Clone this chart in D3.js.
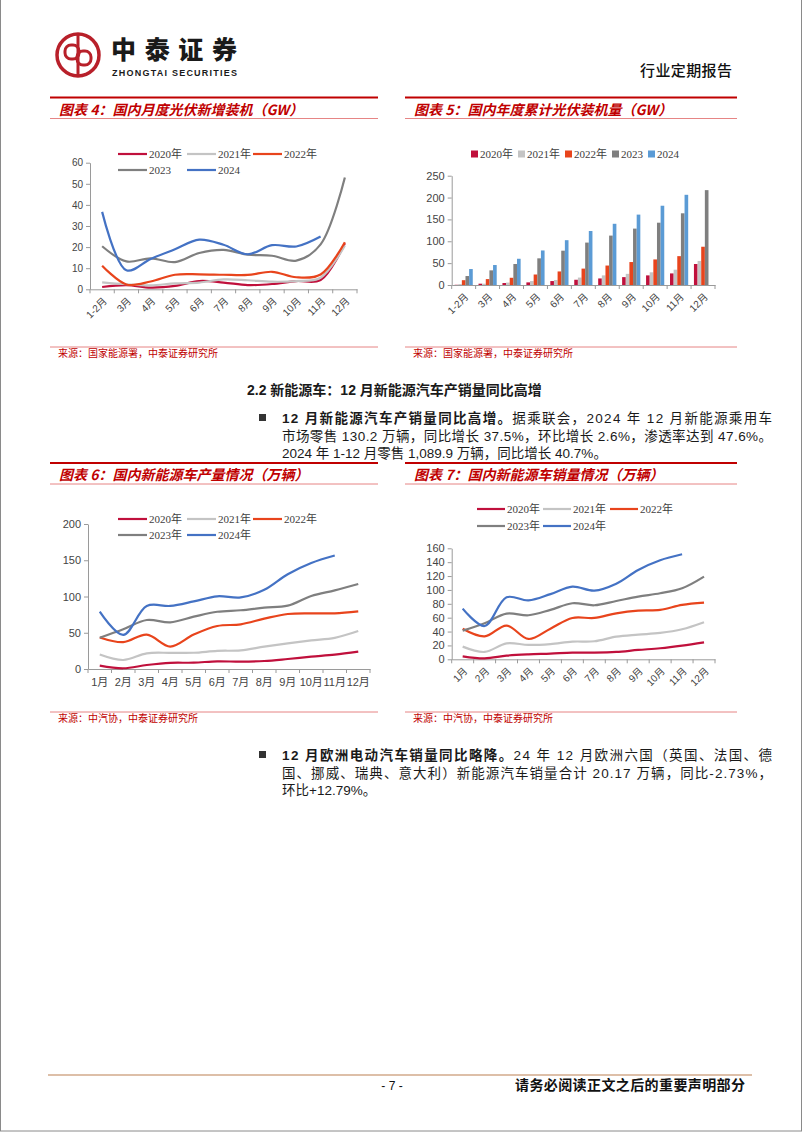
<!DOCTYPE html>
<html><head><meta charset="utf-8">
<script src="https://cdn.jsdelivr.net/npm/d3@7"></script>
<style>body{margin:0;background:#fff}svg{display:block}</style>
</head><body>
<svg id="page" width="802" height="1133"></svg>
<script>
// ---------------- DATA ----------------
const pvMonths = ["1-2月","3月","4月","5月","6月","7月","8月","9月","10月","11月","12月"];
const pvSeriesNames = ["2020年","2021年","2022年","2023","2024"];
const pvMonthly2020 = [1.1,2.0,0.8,1.6,3.9,3.2,2.0,2.5,3.9,4.4,21.8];
const pvMonthly2021 = [3.3,2.4,1.9,2.8,3.2,4.7,4.3,3.6,3.9,5.5,20.8];
const pvMonthly2022 = [11.2,2.3,3.7,6.9,7.1,6.9,6.8,8.3,5.7,7.0,22.3];
const pvMonthly2023 = [20.4,13.2,14.7,12.9,17.2,18.7,16.4,15.9,13.6,21.3,53.0];
const pvMonthly2024 = [36.7,9.0,14.4,19.0,23.5,21.1,16.6,20.9,20.3,25.0,null];

const pvCum2020 = [0.5,3.0,4.5,6.0,9.0,12.0,15.0,18.0,22.0,26.5,48.0];
const pvCum2021 = [2.0,3.0,5.5,9.0,11.5,17.0,22.0,25.5,29.0,35.0,55.0];
const pvCum2022 = [11.0,13.5,16.5,24.0,31.0,37.5,44.5,52.5,58.5,66.0,87.5];
const pvCum2023 = [20.5,33.5,48.0,61.0,78.5,97.0,113.0,129.0,142.5,164.0,217.0];
const pvCum2024 = [36.5,45.7,60.0,79.0,102.5,123.5,140.0,161.0,181.3,206.3,null];

const nevMonths = ["1月","2月","3月","4月","5月","6月","7月","8月","9月","10月","11月","12月"];
const nevSeriesNames = ["2020年","2021年","2022年","2023年","2024年"];
const prod2020 = [4.6,1.0,5.5,8.5,8.7,10.6,10.1,11.0,13.8,17.0,19.8,23.9];
const prod2021 = [20.0,12.4,21.6,22.3,22.4,25.0,25.7,30.8,35.4,39.5,43.0,52.4];
const prod2022 = [43.5,37.0,47.5,31.0,47.5,59.3,61.6,69.4,75.9,76.8,76.8,79.5];
const prod2023 = [43.0,54.7,67.6,64.4,72.2,79.0,81.0,84.6,87.4,100.7,108.5,117.2];
const prod2024 = [79.0,47.0,87.0,87.0,93.2,100.3,98.7,109.3,130.8,146.3,156.6,null];

const sales2020 = [4.3,1.4,5.3,7.2,8.2,9.6,9.6,10.6,13.5,15.9,19.7,24.5];
const sales2021 = [18.3,10.6,23.0,20.7,22.0,25.5,26.0,32.7,35.6,38.0,43.3,53.4];
const sales2022 = [44.0,33.0,48.6,29.3,44.2,59.6,59.6,66.3,70.2,71.2,78.4,81.7];
const sales2023 = [41.3,52.0,65.9,63.5,71.2,80.8,77.9,84.0,90.4,95.2,102.4,119.2];
const sales2024 = [73.0,48.0,89.4,85.0,94.0,104.8,99.0,109.0,128.8,142.8,151.4,null];

const pvTicks = [0,10,20,30,40,50,60];
const pvCumTicks = [0,50,100,150,200,250];
const prodTicks = [0,50,100,150,200];
const salesTicks = [0,20,40,60,80,100,120,140,160];

// ---------------- STYLE ----------------
const lineColors = ["#C0103C","#C4C4C4","#E8441C","#7F7F7F","#4472C4"];
const barColors  = ["#C0103C","#C4C4C4","#E8441C","#7F7F7F","#5B9BD5"];
const SANS = "'Liberation Sans','Noto Sans CJK SC',sans-serif";
const SERIF = "'Liberation Serif','Noto Sans CJK SC',serif";
const CJK = "'Noto Sans CJK SC','Liberation Sans',sans-serif";

const svg = d3.select("#page");

// page border
svg.append("rect").attr("x",0.5).attr("y",-2).attr("width",801).attr("height",1133)
  .attr("fill","none").attr("stroke","#8a8a8a").attr("stroke-width",1);

// ---------------- HEADER ----------------
const logo = svg.append("g").attr("fill","none").attr("stroke","#B8202A");
logo.append("circle").attr("cx",78).attr("cy",55).attr("r",21).attr("stroke-width",3.5);
logo.append("line").attr("x1",78).attr("x2",78).attr("y1",34).attr("y2",76).attr("stroke-width",3);
logo.append("rect").attr("x",65).attr("y",45).attr("width",14).attr("height",14).attr("rx",6).attr("stroke-width",3);
logo.append("rect").attr("x",77).attr("y",51).attr("width",14).attr("height",14).attr("rx",6).attr("stroke-width",3);
svg.append("text").attr("x",111).attr("y",59).attr("font-family",CJK).attr("font-weight",900)
  .attr("font-size",25).attr("fill","#1a1a1a").attr("textLength",126).text("中泰证券");
svg.append("text").attr("x",112).attr("y",76).attr("font-family","'Liberation Sans Narrow','Liberation Sans',sans-serif")
  .attr("font-weight",700).attr("font-size",9).attr("fill","#1a1a1a").attr("textLength",125).text("ZHONGTAI SECURITIES");
svg.append("text").attr("x",640).attr("y",76).attr("font-family",CJK).attr("font-weight",500)
  .attr("font-size",15).attr("fill","#111").attr("textLength",92).text("行业定期报告");

// ---------------- HELPERS ----------------
function titleBlock(x0,x1,yTop,title,ySrc,src){
  svg.append("line").attr("x1",x0).attr("x2",x1).attr("y1",yTop).attr("y2",yTop).attr("stroke","#C00000").attr("stroke-width",2.2);
  svg.append("text").attr("x",x0+9).attr("y",yTop+17).attr("font-family",CJK).attr("font-weight",700)
    .attr("font-style","italic").attr("font-size",14).attr("fill","#C00000").text(title);
  svg.append("line").attr("x1",x0).attr("x2",x1).attr("y1",yTop+21).attr("y2",yTop+21).attr("stroke","#E06666").attr("stroke-width",0.8);
  svg.append("line").attr("x1",x0).attr("x2",x1).attr("y1",ySrc).attr("y2",ySrc).attr("stroke","#E06666").attr("stroke-width",0.8);
  svg.append("text").attr("x",x0+8).attr("y",ySrc+10).attr("font-family",CJK)
    .attr("font-size",10).attr("fill","#C00000").text(src);
}

function axes(g,o,x,y){
  const ya = g.append("g").attr("transform",`translate(${o.left},0)`)
    .call(d3.axisLeft(y).tickValues(o.ticks).tickSize(4).tickSizeOuter(0).tickPadding(3));
  ya.selectAll("path,line").attr("stroke","#9a9a9a");
  ya.selectAll("text").attr("font-family",SANS).attr("font-size",o.yFont).attr("fill","#444");
  const xa = g.append("g").attr("transform",`translate(0,${o.bottom})`)
    .call(d3.axisBottom(x).tickSize(0).tickSizeOuter(0));
  xa.select("path").attr("stroke","#9a9a9a");
  const bounds = o.cats.map(c=>x(c)).concat([x.range()[1]]);
  xa.selectAll(".bt").data(bounds).join("line").attr("class","bt")
    .attr("x1",d=>d).attr("x2",d=>d).attr("y1",0).attr("y2",4).attr("stroke","#9a9a9a");
  const t = xa.selectAll(".tick text").attr("font-family",SANS).attr("font-size",o.xFont).attr("fill","#444");
  if(o.rotate){
    t.attr("x",0).attr("y",0).attr("dy","0.35em").attr("text-anchor","end")
     .attr("transform","translate(3,10) rotate(-45)");
  } else {
    t.attr("y",9);
  }
}

function legendLines(o, names, colors){
  const g = svg.append("g");
  names.forEach((n,i)=>{
    const p = o.legendPos[i];
    g.append("line").attr("x1",p[0]).attr("x2",p[0]+o.legendLen).attr("y1",p[1]).attr("y2",p[1])
      .attr("stroke",colors[i]).attr("stroke-width",2.2);
    g.append("text").attr("x",p[0]+o.legendLen+2).attr("y",p[1]).attr("dy","0.35em")
      .attr("font-family",SERIF).attr("font-size",11).attr("fill","#404040").text(n);
  });
}

function lineChart(o){
  const g = svg.append("g");
  const x = d3.scaleBand().domain(o.cats).range([o.left,o.right]);
  const y = d3.scaleLinear().domain([0,o.max]).range([o.bottom,o.top]);
  axes(g,o,x,y);
  const line = d3.line().defined(d=>d!=null)
    .x((d,i)=>x(o.cats[i])+x.bandwidth()/2).y(d=>y(d))
    .curve(d3.curveCatmullRom.alpha(0.5));
  g.selectAll(".series").data(o.series).join("path").attr("class","series")
    .attr("d",d=>line(d)).attr("fill","none")
    .attr("stroke",(d,i)=>lineColors[i]).attr("stroke-width",2.2).attr("stroke-linejoin","round");
  legendLines(o,o.names,lineColors);
}

function barChart(o){
  const g = svg.append("g");
  const x = d3.scaleBand().domain(o.cats).range([o.left,o.right]);
  const y = d3.scaleLinear().domain([0,o.max]).range([o.bottom,o.top]);
  const bw = x.bandwidth();
  const xs = d3.scaleBand().domain(d3.range(o.series.length)).range([bw*0.12,bw*0.88]);
  o.series.forEach((s,si)=>{
    g.selectAll(".b"+si).data(s.map((v,i)=>({v,c:o.cats[i]})).filter(d=>d.v!=null)).join("rect")
      .attr("x",d=>x(d.c)+xs(si)).attr("width",xs.bandwidth())
      .attr("y",d=>y(d.v)).attr("height",d=>y(0)-y(d.v)).attr("fill",barColors[si]);
  });
  axes(g,o,x,y);
  const lg = svg.append("g");
  o.names.forEach((n,i)=>{
    const p = o.legendPos[i];
    lg.append("rect").attr("x",p[0]).attr("y",p[1]-3.5).attr("width",7).attr("height",7).attr("fill",barColors[i]);
    lg.append("text").attr("x",p[0]+9).attr("y",p[1]).attr("dy","0.35em")
      .attr("font-family",SERIF).attr("font-size",11).attr("fill","#404040").text(n);
  });
}

// ---------------- CHARTS ----------------
titleBlock(50,378,97.5,"图表 4：国内月度光伏新增装机（GW）",347,"来源：国家能源署，中泰证券研究所");
titleBlock(405,737,97.5,"图表 5：国内年度累计光伏装机量（GW）",347,"来源：国家能源署，中泰证券研究所");
titleBlock(50,378,463,"图表 6：国内新能源车产量情况（万辆）",712,"来源：中汽协，中泰证券研究所");
titleBlock(405,737,463,"图表 7：国内新能源车销量情况（万辆）",712,"来源：中汽协，中泰证券研究所");

lineChart({cats:pvMonths, left:90, right:357, top:162.7, bottom:289.3, max:60, ticks:pvTicks,
  yFont:10, xFont:10, rotate:true,
  series:[pvMonthly2020,pvMonthly2021,pvMonthly2022,pvMonthly2023,pvMonthly2024],
  names:pvSeriesNames, legendLen:29,
  legendPos:[[118,154],[187,154],[253,154],[118,170],[187,170]]});

barChart({cats:pvMonths, left:451.7, right:715, top:175.7, bottom:285, max:250, ticks:pvCumTicks,
  yFont:11, xFont:10, rotate:true,
  series:[pvCum2020,pvCum2021,pvCum2022,pvCum2023,pvCum2024],
  names:pvSeriesNames,
  legendPos:[[471,154],[518,154],[565,154],[612,154],[648,154]]});

lineChart({cats:nevMonths, left:88, right:370, top:524, bottom:669, max:200, ticks:prodTicks,
  yFont:11, xFont:11, rotate:false,
  series:[prod2020,prod2021,prod2022,prod2023,prod2024],
  names:nevSeriesNames, legendLen:29,
  legendPos:[[118,519],[187,519],[253,519],[118,535],[187,535]]});

lineChart({cats:nevMonths, left:451.7, right:715, top:548.3, bottom:659.3, max:160, ticks:salesTicks,
  yFont:11, xFont:10, rotate:true,
  series:[sales2020,sales2021,sales2022,sales2023,sales2024],
  names:nevSeriesNames, legendLen:28,
  legendPos:[[477,509],[543,509],[610,509],[477,526],[543,526]]});

// ---------------- BODY TEXT ----------------
const body = svg.append("g").attr("font-family",SANS).attr("fill","#1a1a1a");
body.append("text").attr("x",247).attr("y",395).attr("font-size",14).attr("font-weight",700)
  .text("2.2 新能源车：12 月新能源汽车产销量同比高增");
function para(lines, x, y0, lh){
  lines.forEach((ln,i)=>{
    const t = body.append("text").attr("x",x).attr("y",y0+i*lh).attr("font-size",13.5);
    if(ln.w){ t.attr("textLength",ln.w).attr("lengthAdjust","spacing"); }
    ln.parts.forEach(p=>t.append("tspan").attr("font-weight",p.b?700:400).text(p.t));
  });
}
body.append("rect").attr("x",259).attr("y",414).attr("width",7).attr("height",7).attr("fill","#333");
para([
  {w:490, parts:[{t:"12 月新能源汽车产销量同比高增。",b:1},{t:"据乘联会，2024 年 12 月新能源乘用车"}]},
  {w:490, parts:[{t:"市场零售 130.2 万辆，同比增长 37.5%，环比增长 2.6%，渗透率达到 47.6%。"}]},
  {parts:[{t:"2024 年 1-12 月零售 1,089.9 万辆，同比增长 40.7%。"}]}
], 282, 423, 17.5);

body.append("rect").attr("x",259).attr("y",751).attr("width",7).attr("height",7).attr("fill","#333");
para([
  {w:490, parts:[{t:"12 月欧洲电动汽车销量同比略降。",b:1},{t:"24 年 12 月欧洲六国（英国、法国、德"}]},
  {w:490, parts:[{t:"国、挪威、瑞典、意大利）新能源汽车销量合计 20.17 万辆，同比-2.73%，"}]},
  {parts:[{t:"环比+12.79%。"}]}
], 282, 760, 17.5);

// ---------------- FOOTER ----------------
svg.append("line").attr("x1",48).attr("x2",752).attr("y1",1075).attr("y2",1075)
  .attr("stroke","#DDBFA8").attr("stroke-width",2);
svg.append("text").attr("x",392).attr("y",1090).attr("text-anchor","middle").attr("font-family",SANS)
  .attr("font-size",12).attr("fill","#111").text("- 7 -");
svg.append("text").attr("x",515).attr("y",1090).attr("font-family",CJK).attr("font-weight",700)
  .attr("font-size",14).attr("fill","#111").attr("textLength",230).text("请务必阅读正文之后的重要声明部分");
</script>
</body></html>
